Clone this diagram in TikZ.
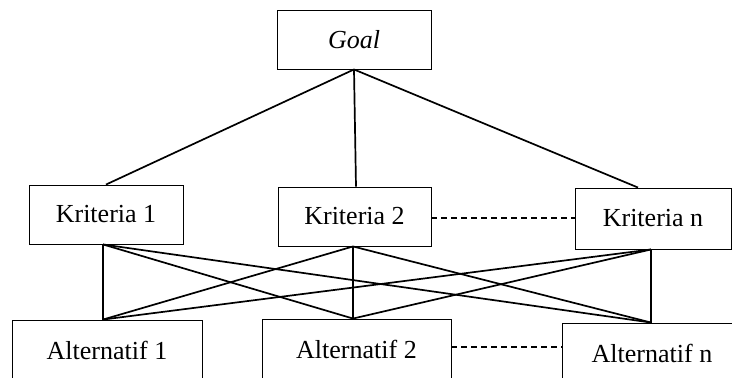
\documentclass[tikz,border=0pt]{standalone}
\usepackage{fontspec}
\setmainfont{Liberation Serif}
\begin{document}
\begin{tikzpicture}[x=1pt,y=-1pt,
  box/.style={draw,line width=0.9pt,rectangle,inner sep=0pt,font=\fontsize{26}{30}\selectfont},
  link/.style={line width=1.7pt},
  dlink/.style={line width=1.4pt,dash pattern=on 6pt off 4pt}]
\useasboundingbox (0,0) rectangle (732,378);
\clip (0,0) rectangle (732,378);
\node[box,minimum width=154pt,minimum height=59pt] (goal) at (354,39.5) {\textit{Goal}};
\node[box,minimum width=154pt,minimum height=59pt] (k1) at (106,214.5) {Kriteria 1};
\node[box,minimum width=153pt,minimum height=59pt] (k2) at (354.5,216.5) {Kriteria 2};
\node[box,minimum width=156pt,minimum height=61pt] (kn) at (653,218.5) {Kriteria n};
\node[box,minimum width=190pt,minimum height=60pt] (a1) at (107,350) {Alternatif 1};
\node[box,minimum width=189pt,minimum height=60pt] (a2) at (356.5,349) {Alternatif 2};
\node[box,minimum width=180pt,minimum height=60pt] (an) at (652,353) {Alternatif n};
% goal to criteria
\draw[link] (goal.south) -- (k1.north);
\draw[link] (goal.south) -- ([xshift=1.5pt]k2.north);
\draw[link] (goal.south) -- ([xshift=-15pt]kn.north);
% criteria to alternatives
\foreach \k/\ks in {k1/-3pt,k2/-1.5pt,kn/-2pt}{
  \foreach \a/\as in {a1/-4pt,a2/-3.5pt,an/-1pt}{
    \draw[link] ([xshift=\ks]\k.south) -- ([xshift=\as]\a.north);
  }
}
\draw[dlink] ([yshift=-1.5pt]k2.east) -- ([yshift=-1.5pt]k2.east -| kn.west);
\draw[dlink] ([yshift=2pt]a2.east) -- ([yshift=2pt]a2.east -| an.west);
\end{tikzpicture}
\end{document}
